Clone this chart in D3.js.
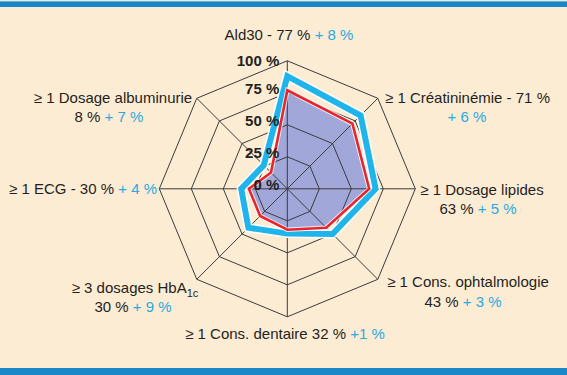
<!DOCTYPE html>
<html><head><meta charset="utf-8">
<script src="https://cdn.jsdelivr.net/npm/d3@7"></script>
<style>
html,body{margin:0;padding:0;background:#fdecd4;}
svg{display:block;font-family:"Liberation Sans",Arial,Helvetica,sans-serif;}
</style></head>
<body>
<svg id="c" width="567" height="375"></svg>
<script>
// ---- data ----
const categories = ["Ald30","Créatininémie","Dosage lipides","Cons. ophtalmologie","Cons. dentaire","HbA1c","ECG","Dosage albuminurie"];
const before = [77, 72, 64, 43, 32, 30, 30, 18];   // red polygon (filled)
const after  = [88, 81, 69, 50, 35, 43, 36, 26];   // blue polygon
const tickValues = [0, 25, 50, 75, 100];
const tickLabels = ["0 %", "25 %", "50 %", "75 %", "100 %"];

const svg = d3.select("#c");
const W = 567, H = 375;
const cx = 287.3, cy = 188.8, R = 128;
const n = categories.length;

svg.append("rect").attr("x",0).attr("y",0).attr("width",W).attr("height",H).attr("fill","#fdecd4");
svg.append("rect").attr("x",0).attr("y",1).attr("width",W).attr("height",6).attr("fill","#1a87c8");
svg.append("rect").attr("x",0).attr("y",1).attr("width",W).attr("height",1).attr("fill","#5bb3e0");
svg.append("rect").attr("x",0).attr("y",368).attr("width",W).attr("height",7).attr("fill","#1a87c8");

const r = d3.scaleLinear().domain([0,100]).range([0,R]);
const ang = d3.scalePoint().domain(d3.range(n+1)).range([0, 2*Math.PI]);
const angle = i => ang(i % n);
const pt = (i, v) => [cx + r(v)*Math.sin(angle(i)), cy - r(v)*Math.cos(angle(i))];

const line = d3.line().curve(d3.curveLinearClosed);
const g = svg.append("g");

// fill of red series
g.append("path").attr("d", line(before.map((v,i)=>pt(i,v))))
  .attr("fill","#a2a7d9").attr("stroke","none");

// grid
tickValues.filter(t=>t>0).forEach(t=>{
  g.append("path").attr("d", line(d3.range(n).map(i=>pt(i,t))))
   .attr("fill","none").attr("stroke","#3b3b3b").attr("stroke-width",1);
});
d3.range(n).forEach(i=>{
  const p = pt(i,100);
  g.append("line").attr("x1",cx).attr("y1",cy).attr("x2",p[0]).attr("y2",p[1])
   .attr("stroke","#3b3b3b").attr("stroke-width",1);
});

// blue series with white halo
const bd = line(after.map((v,i)=>pt(i,v)));
g.append("path").attr("d", bd).attr("fill","none").attr("stroke","#ffffff").attr("stroke-width",9).attr("stroke-linejoin","miter");
g.append("path").attr("d", bd).attr("fill","none").attr("stroke","#1fb4ea").attr("stroke-width",6).attr("stroke-linejoin","miter");
// red series
const rd = line(before.map((v,i)=>pt(i,v)));
g.append("path").attr("d", rd).attr("fill","none").attr("stroke","#ffffff").attr("stroke-width",4.5).attr("stroke-linejoin","miter").attr("stroke-opacity",0.8);
g.append("path").attr("d", rd).attr("fill","none").attr("stroke","#e6262c").attr("stroke-width",2.6).attr("stroke-linejoin","miter");

// scale labels
tickValues.forEach((t,k)=>{
  svg.append("text").attr("x", cx-8).attr("y", cy - r(t) + (t===100?5:1))
    .attr("text-anchor","end").attr("font-size",15).attr("font-weight","bold")
    .attr("fill","#231f20").text(tickLabels[k]);
});

// category labels
const dark = "#231f20", cyan = "#27a9e1";
function lbl(x, y, anchor, parts){
  const t = svg.append("text").attr("x",x).attr("y",y).attr("text-anchor",anchor).attr("font-size",15).attr("fill",dark);
  parts.forEach(p=>{
    const s = t.append("tspan").text(p[0]).attr("fill", p[1]||dark);
    if (p[2]) s.attr("font-size",p[2]);
    if (p[3]) s.attr("dy",p[3]);
  });
  return t;
}
const inc = ["+ 8 %","+ 6 %","+ 5 %","+ 3 %","+1 %","+ 9 %","+ 4 %","+ 7 %"];
lbl(289, 40, "middle", [[categories[0]+" - 77 % "],[inc[0],cyan]]);
lbl(385, 103, "start", [["≥ 1 "+categories[1]+" - 71 %"]]);
lbl(467, 122, "middle", [[inc[1],cyan]]);
lbl(482, 195, "middle", [["≥ 1 "+categories[2]]]);
lbl(478, 214, "middle", [["63 % "],[inc[2],cyan]]);
lbl(468, 287, "middle", [["≥ 1 "+categories[3]]]);
lbl(463, 307, "middle", [["43 % "],[inc[3],cyan]]);
lbl(285, 339, "middle", [["≥ 1 "+categories[4]+" 32 % "],[inc[4],cyan]]);
lbl(135, 293, "middle", [["≥ 3 dosages HbA"],["1c",dark,11,4]]);
lbl(133, 312, "middle", [["30 % "],[inc[5],cyan]]);
lbl(157, 194, "end", [["≥ 1 "+categories[6]+" - 30 % "],[inc[6],cyan]]);
lbl(113, 103, "middle", [["≥ 1 "+categories[7]]]);
lbl(109, 122, "middle", [["8 % "],[inc[7],cyan]]);
</script>
</body></html>
